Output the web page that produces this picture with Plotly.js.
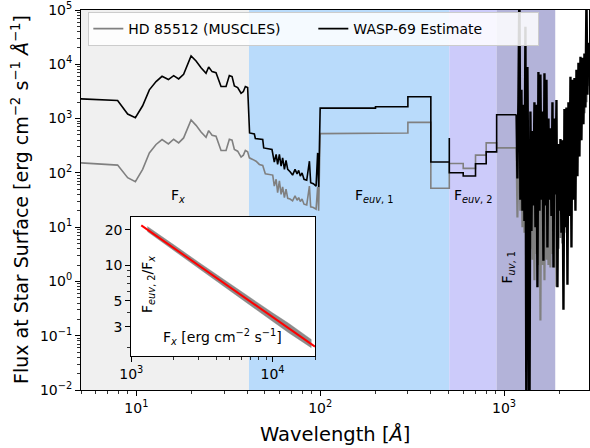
<!DOCTYPE html>
<html>
<head>
<meta charset="utf-8">
<script src="https://cdn.plot.ly/plotly-3.0.1.min.js"></script>
<style>
  html, body { margin: 0; padding: 0; background: #ffffff; }
  #chart { width: 590px; height: 448px; }
</style>
</head>
<body>
<div id="chart"></div>
<script>
// ---- X-ray part of the spectra (Angstrom, erg cm^-2 s^-1 A^-1) ----
const xrayWl = [5.0, 7.91, 8.97, 9.88, 10.82, 11.77, 12.80, 13.80, 14.94, 15.96, 16.99, 18.08,
  19.85, 21.13, 22.49, 23.94, 24.74, 25.82, 27.13, 28.89, 30.76, 32.06, 33.17, 34.14, 35.58,
  37.13, 38.21, 39.18, 40.32];
const waspXray = [2310, 2150, 1210, 1040, 1720, 3380, 4800, 6000, 5230, 6180, 5380, 6530,
  14200, 11500, 8660, 6810, 8910, 7320, 7010, 3890, 3890, 6180, 5930, 4000, 3720,
  2930, 3150, 3890, 3720];
const hdXray = [153, 139, 81.5, 68.8, 116, 233, 333, 410, 341, 416, 356, 440,
  940, 750, 566, 453, 600, 492, 472, 258, 258, 416, 399, 269, 251,
  195, 212, 258, 244];

// ---- short-wavelength EUV part ----
const waspEuvWl = [41.3, 43.85, 44.4, 48.7, 49.3, 54.7, 56.3, 57.6, 58.7, 60.0, 61.3, 62.5,
  63.9, 65.2, 66.6, 68.6, 70.8, 73.0, 74.9, 76.4, 78.0, 79.7, 81.7, 84.5, 87.4, 88.8,
  91.8, 95.0, 96.9, 98.1];
const waspEuv = [543, 520, 429, 411, 288, 269, 158, 218, 143, 218, 133, 189,
  116, 169, 116, 105, 91, 116, 96, 111, 87, 100, 76, 73, 164, 66,
  63, 57, 233, 55];
const hdEuvWl = [41.2, 42.95, 44.8, 46.7, 48.7, 50.3, 55.2, 56.3, 57.6, 58.7, 60.0, 61.3,
  62.5, 63.9, 65.2, 66.6, 68.6, 70.8, 73.0, 74.9, 76.4, 78.0, 79.7, 81.7, 84.5, 87.4,
  88.8, 91.8, 95.0, 96.9, 98.1];
const hdEuv = [189, 177, 164, 143, 137, 96, 91, 57, 76, 43, 71, 40,
  55, 35, 50, 34, 33, 30.5, 37.6, 31.3, 35, 29.6, 33, 26.5, 25.7, 57,
  23.6, 23, 21.4, 55, 20];

// ---- binned EUV fluxes (bin edges in Angstrom) ----
const binEdges = [100, 200, 300, 400, 504, 600, 700, 800, 912, 1170];
const waspBins = [1556, 1650, 2520, 158, 100.5, 87.3, 147, 244, 1178];
const hdBins = [528, 543, 851, 52, 149, 121, 212, 356, 288];
const waspEdgeSpikeWl = [504];
const waspEdgeSpike = [440];

// ---- FUV / NUV part ----
const uvWl = [1183, 1198, 1213, 1228, 1244, 1260, 1276, 1292, 1308, 1324, 1341, 1358,
  1375, 1392, 1410, 1428, 1446, 1464, 1483, 1501, 1520, 1539, 1559, 1578, 1598, 1618,
  1639, 1660, 1680, 1702, 1723, 1745, 1767, 1789, 1812, 1835, 1858, 1881, 1905, 1929,
  1953, 1978, 2003, 2028, 2053, 2079, 2106, 2132, 2159, 2186, 2214, 2242, 2270, 2299,
  2328, 2357, 2387, 2417, 2447, 2478, 2509, 2541, 2573, 2606, 2638, 2672, 2705, 2739,
  2774, 2809, 2844, 2880];
const waspUv = [79, 2400, 3.2e5, 32, 3400, 20, 1800, 13, 4.9e4, 1e-3, 8900, 16,
  1e-3, 1350, 8.5, 590, 25, 2000, 10, 1800, 0.78, 7200, 20, 6500, 32, 1350,
  2.4, 6800, 25, 5200, 4.2, 1000, 32, 660, 16, 2000, 1.8, 1000, 40, 2200,
  0.78, 340, 20, 420, 7.9, 400, 0.3, 1500, 10, 1600, 0.87, 2000, 16, 5900,
  4.2, 5200, 32, 5600, 20, 7900, 87, 1.07e4, 200, 1.38e4, 400, 1.32e4, 790, 1.58e4,
  1600, 1.6e5, 2750, 2.5e4];
const hdUv = [15, 200, 790, 20, 400, 10, 320, 7.9, 4000, 3.2, 790, 6.3,
  250, 4.0, 320, 2.5, 200, 1.05, 400, 3.2, 250, 2.0, 630, 0.19, 500, 2.0,
  250, 1.05, 630, 2.5, 320, 2.0, 200, 1.8, 400, 3.2, 250, 1.8, 320, 0.8,
  160, 4.0, 200, 6.3, 250, 5.0, 400, 7.9, 500, 10, 630, 16, 1000, 25,
  1260, 40, 1600, 63, 2000, 100, 3200, 200, 4000, 400, 5000, 790, 7900, 1260,
  1.0e4, 2000, 1.58e4, 4000];

// ---- shaded wavelength bands ----
const regionEdges = [5, 41, 504, 911.6, 1900];
const regionColors = ['#f0f0f0', '#b9dbfb', '#cccbfa', '#b3b3d9'];

// ---- inset: F_euv,2 / F_x against F_x ----
const bandFx = [1300, 1500, 2000, 3000, 4000, 5000, 6000, 8000, 10000, 13000, 16000, 18800];
const bandUpper = [21.3, 19.0, 14.9, 10.6, 8.35, 7.0, 6.0, 4.75, 3.95, 3.22, 2.72, 2.35];
const bandLower = [19.3, 16.9, 13.2, 9.4, 7.35, 6.05, 5.2, 4.05, 3.35, 2.68, 2.26, 2.0];
const fitFx = [1177, 19980];
const fitRatio = [21.8, 2.04];

// ---- tick labels ----
const yTickVals = [1e-2, 1e-1, 1, 1e1, 1e2, 1e3, 1e4, 1e5];
const yTickText = ['10<sup>\u22122</sup>', '10<sup>\u22121</sup>', '10<sup>0</sup>', '10<sup>1</sup>',
  '10<sup>2</sup>', '10<sup>3</sup>', '10<sup>4</sup>', '10<sup>5</sup>'];
const xTickVals = [10, 100, 1000];
const xTickText = ['10<sup>1</sup>', '10<sup>2</sup>', '10<sup>3</sup>'];
const insetXTickVals = [1000, 10000];
const insetXTickText = ['10<sup>3</sup>', '10<sup>4</sup>'];
const insetYTickVals = [3, 5, 10, 20];
const insetYTickText = ['3', '5', '10', '20'];

// assemble a full spectrum from its pieces
function stepPoints(edges, vals, spikeWl, spikeVal) {
  const x = [], y = [];
  for (let i = 0; i < vals.length; i++) {
    x.push(edges[i]); y.push(vals[i]);
    x.push(edges[i + 1]); y.push(vals[i]);
    const k = spikeWl ? spikeWl.indexOf(edges[i + 1]) : -1;
    if (k >= 0) { x.push(edges[i + 1]); y.push(spikeVal[k]); }
  }
  return { x, y };
}
const waspStep = stepPoints(binEdges, waspBins, waspEdgeSpikeWl, waspEdgeSpike);
const hdStep = stepPoints(binEdges, hdBins);

// X-ray + EUV + binned part, then the dense UV part as its own (thicker) segment
const waspX = [].concat(xrayWl, waspEuvWl, waspStep.x);
const waspY = [].concat(waspXray, waspEuv, waspStep.y);
const hdX = [].concat(xrayWl, hdEuvWl, hdStep.x);
const hdY = [].concat(hdXray, hdEuv, hdStep.y);
const waspUvX = [binEdges[binEdges.length - 1]].concat(uvWl);
const waspUvY = [waspBins[waspBins.length - 1]].concat(waspUv);
const hdUvX = [binEdges[binEdges.length - 1]].concat(uvWl);
const hdUvY = [hdBins[hdBins.length - 1]].concat(hdUv);

// minor tick positions for log axes (2..9 in every decade)
function minorLogTicks(lo, hi) {
  const out = [];
  for (let p = lo; p <= hi; p++) for (let d = 2; d <= 9; d++) out.push(d * Math.pow(10, p));
  return out;
}

const FONT = 'DejaVu Sans, Verdana, sans-serif';
const GRAY = '#808080';

const traces = [
  {
    x: hdX, y: hdY, type: 'scatter', mode: 'lines', name: 'HD 85512 (MUSCLES)',
    legendgroup: 'hd', line: { color: GRAY, width: 1.6 }, xaxis: 'x', yaxis: 'y'
  },
  {
    x: hdUvX, y: hdUvY, type: 'scatter', mode: 'lines', name: 'HD 85512 (MUSCLES)',
    legendgroup: 'hd', showlegend: false, line: { color: GRAY, width: 2.2 }, xaxis: 'x', yaxis: 'y'
  },
  {
    x: waspX, y: waspY, type: 'scatter', mode: 'lines', name: 'WASP-69 Estimate',
    legendgroup: 'wasp', line: { color: '#000000', width: 1.6 }, xaxis: 'x', yaxis: 'y'
  },
  {
    x: waspUvX, y: waspUvY, type: 'scatter', mode: 'lines', name: 'WASP-69 Estimate',
    legendgroup: 'wasp', showlegend: false, line: { color: '#000000', width: 2.4 }, xaxis: 'x', yaxis: 'y'
  },
  {
    x: bandFx.concat(bandFx.slice().reverse()),
    y: bandUpper.concat(bandLower.slice().reverse()),
    type: 'scatter', mode: 'lines', fill: 'toself', fillcolor: 'rgba(128,128,128,0.9)',
    line: { color: 'rgba(128,128,128,0.5)', width: 0.8 }, showlegend: false,
    xaxis: 'x2', yaxis: 'y2', hoverinfo: 'skip'
  },
  {
    x: fitFx, y: fitRatio, type: 'scatter', mode: 'lines',
    line: { color: '#ff0000', width: 2 }, showlegend: false, xaxis: 'x2', yaxis: 'y2'
  }
];

// inset placement (paper fractions)
const insetX = [0.099, 0.4612];
const insetY = [0.0895, 0.4545];

const shapes = [];
for (let i = 0; i < regionColors.length; i++) {
  shapes.push({
    type: 'rect', xref: 'x', yref: 'paper', x0: regionEdges[i], x1: regionEdges[i + 1],
    y0: 0, y1: 1, fillcolor: regionColors[i], line: { width: 0 }, layer: 'below'
  });
}
shapes.push({
  type: 'rect', xref: 'paper', yref: 'paper', x0: insetX[0], x1: insetX[1],
  y0: insetY[0], y1: insetY[1], fillcolor: '#ffffff', line: { width: 0 }, layer: 'below'
});

function axisStyle(extra) {
  return Object.assign({
    ticks: 'outside', ticklen: 5, tickwidth: 1, tickcolor: '#000',
    showline: true, linecolor: '#000', linewidth: 1, mirror: true,
    showgrid: false, zeroline: false, tickmode: 'array', ticklabeloverflow: 'allow',
    tickfont: { family: FONT, size: 14, color: '#000' }
  }, extra);
}

function label(text, x, y, size, angle) {
  return {
    text: text, xref: 'paper', yref: 'paper', x: x, y: y, textangle: angle || 0,
    xanchor: 'center', yanchor: 'middle', showarrow: false,
    font: { family: FONT, size: size, color: '#000' }
  };
}

const layout = {
  width: 590, height: 448,
  margin: { l: 81, r: 1, t: 10, b: 58 },
  paper_bgcolor: '#ffffff', plot_bgcolor: '#ffffff',
  font: { family: FONT, size: 14, color: '#000' },
  showlegend: true,
  legend: {
    orientation: 'h', x: 0.0144, y: 0.9947, xanchor: 'left', yanchor: 'top',
    bgcolor: 'rgba(255,255,255,0.85)', bordercolor: '#cccccc', borderwidth: 1,
    font: { family: FONT, size: 14, color: '#000' }, entrywidth: 180, entrywidthmode: 'pixels'
  },
  xaxis: axisStyle({
    type: 'log', range: [Math.log10(5), Math.log10(2900)], domain: [0, 1], anchor: 'y',
    tickvals: xTickVals, ticktext: xTickText,
    minor: { tickmode: 'array', tickvals: minorLogTicks(0, 3), ticks: 'outside', ticklen: 3, tickwidth: 0.8, tickcolor: '#000' }
  }),
  yaxis: axisStyle({
    type: 'log', range: [-2, 5], domain: [0, 1], anchor: 'x',
    tickvals: yTickVals, ticktext: yTickText,
    minor: { tickmode: 'array', tickvals: minorLogTicks(-2, 4), ticks: 'outside', ticklen: 3, tickwidth: 0.8, tickcolor: '#000' }
  }),
  xaxis2: axisStyle({
    type: 'log', range: [3, 4.303], domain: insetX, anchor: 'y2',
    tickvals: insetXTickVals, ticktext: insetXTickText,
    minor: { tickmode: 'array', tickvals: minorLogTicks(3, 4), ticks: 'outside', ticklen: 3, tickwidth: 0.8, tickcolor: '#000' }
  }),
  yaxis2: axisStyle({
    type: 'log', range: [Math.log10(1.70), Math.log10(25.5)], domain: insetY, anchor: 'x2',
    tickvals: insetYTickVals, ticktext: insetYTickText,
    minor: { tickmode: 'array', tickvals: minorLogTicks(0, 1), ticks: 'outside', ticklen: 3, tickwidth: 0.8, tickcolor: '#000' }
  }),
  shapes: shapes,
  annotations: [
    label('Wavelength [<i>Å</i>]', 0.5, -0.1158, 19.5),
    label('Flux at Star Surface [erg cm<sup>\u22122</sup> s<sup>\u22121</sup> <i>Å</i><sup>\u22121</sup>]',
      -0.1201, 0.5026, 19, -90),
    label('F<sub><i>x</i></sub>', 0.1909, 0.5105, 14),
    label('F<sub><i>euv</i>, 1</sub>', 0.5768, 0.5105, 14),
    label('F<sub><i>euv</i>, 2</sub>', 0.7736, 0.5105, 14),
    label('F<sub><i>uv</i>, 1</sub>', 0.8415, 0.3237, 14, -90),
    label('F<sub><i>euv</i>, 2</sub>/F<sub><i>x</i></sub>', 0.1319, 0.2763, 14, -90),
    label('F<sub><i>x</i></sub> [erg cm<sup>\u22122</sup> s<sup>\u22121</sup>]', 0.2795, 0.1395, 14)
  ]
};

Plotly.newPlot('chart', traces, layout, { staticPlot: true, displayModeBar: false });
</script>
</body>
</html>
